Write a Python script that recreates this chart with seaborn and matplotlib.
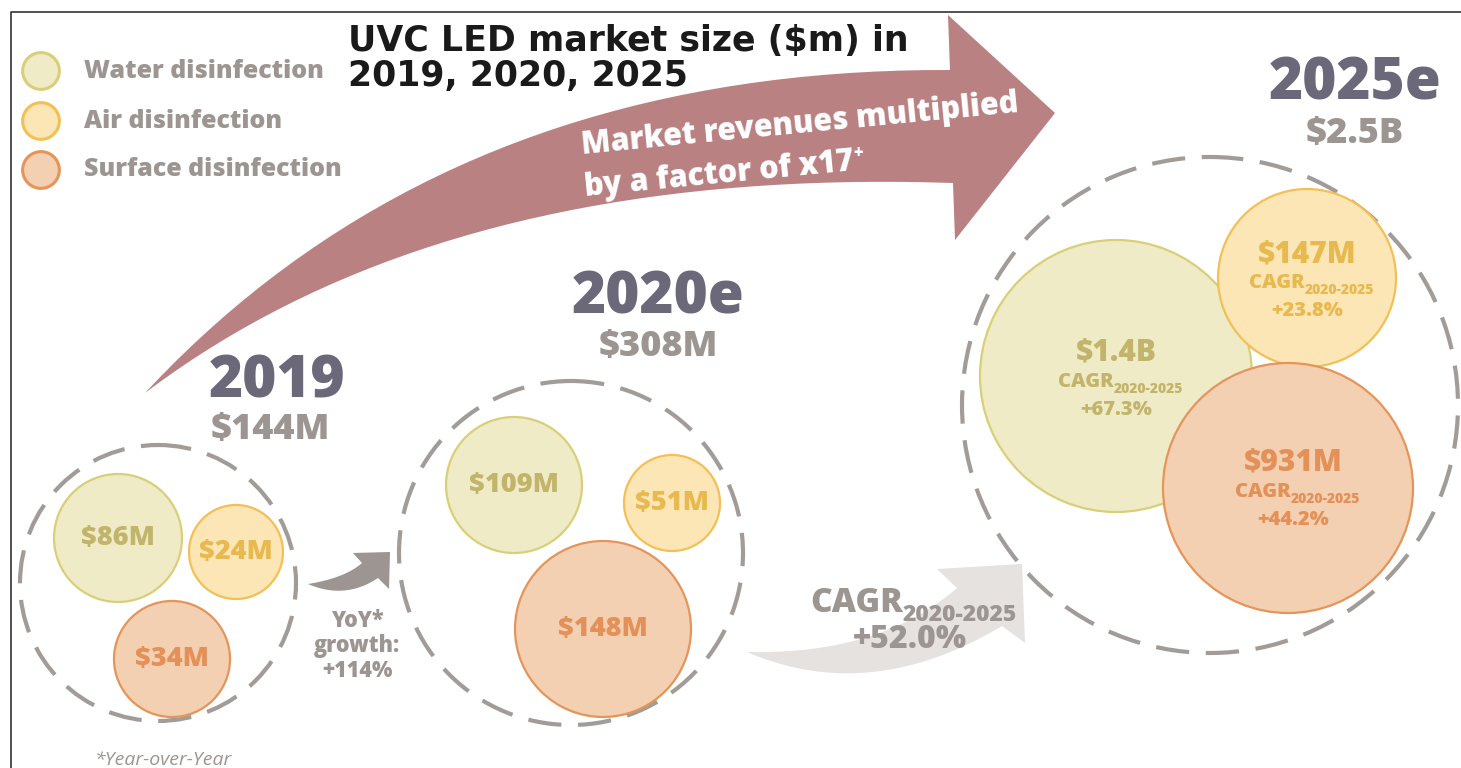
import numpy as np
import pandas as pd
import seaborn as sns
import matplotlib.pyplot as plt
from matplotlib.patches import Circle, PathPatch
from matplotlib.path import Path

# market data
segments = ["Water disinfection", "Air disinfection", "Surface disinfection"]
years = ["2019", "2020e", "2025e"]
totals_m = [144, 308, 2500]
values_2019 = [86, 24, 34]
values_2020 = [109, 51, 148]
values_2025 = [1400, 147, 931]
cagr_2025 = [67.3, 23.8, 44.2]
yoy_growth = 114
cagr_total = 52.0
growth_factor = 17

# layout (pixel space, y down)
W, H = 1461, 768
group_centers = [(158, 583), (571, 553), (1210, 405)]
group_radii = [138, 172, 248]
bubble_centers = [
    [(118, 538), (236, 552), (172, 659)],
    [(514, 485), (672, 503), (603, 629)],
    [(1116, 376), (1307, 278), (1288, 488)],
]
bubble_radii = [[64, 47, 58], [68, 48, 88], [136, 89, 125]]
year_pos = [(277, 382), (658, 298), (1355, 84)]
total_pos = [(270, 430), (658, 347), (1355, 134)]

fills = ["#efebc7", "#fce6b6", "#f3d0b1"]
edges = ["#d8cf78", "#f2c055", "#e5945a"]
txt_cols = ["#c2b56b", "#e8b94e", "#e39158"]
gray = "#9c9591"
year_col = "#6b687a"
arrow_col = "#b98182"
light_arrow = "#e5e2e0"
HEAVY = 800

sns.set_theme(style="white")
plt.rcParams['font.family'] = ['Open Sans', 'DejaVu Sans']

fig = plt.figure(figsize=(W / 100, H / 100), dpi=100)
ax = fig.add_axes([0, 0, 1, 1])
ax.set_xlim(0, W)
ax.set_ylim(H, 0)
ax.axis("off")


def money(v):
    if v >= 1000:
        return f"${v / 1000:.1f}B"
    return f"${v}M"


def bez(p0, c, p1, n=40):
    t = np.linspace(0, 1, n)[:, None]
    p0, c, p1 = np.array(p0), np.array(c), np.array(p1)
    return (1 - t) ** 2 * p0 + 2 * (1 - t) * t * c + t ** 2 * p1


def curved_arrow(tail, up_end, up_c, lo_end, lo_c, head, color, z=1):
    upper = bez(tail, up_c, up_end)
    lower = bez(tail, lo_c, lo_end)[::-1]
    pts = np.vstack([upper, np.array(head), lower])
    ax.add_patch(PathPatch(Path(np.vstack([pts, pts[:1]]), closed=True),
                           fc=color, ec="none", zorder=z))


# frame
ax.plot([11, 11, W], [H, 12, 12], color="#333333", lw=1.2, zorder=0)

# big arrow
curved_arrow((145, 393), (950, 70), (447, 68), (953, 183), (445, 166),
             [(948, 15), (1055, 113), (955, 240)], arrow_col)
ax.text(582, 154, "Market revenues multiplied", rotation=5.5, rotation_mode="anchor",
        ha="left", va="baseline", color="white", fontsize=22, fontweight=HEAVY, zorder=3)
t = ax.text(585, 196, f"by a factor of x{growth_factor}", rotation=5.5, rotation_mode="anchor",
            ha="left", va="baseline", color="white", fontsize=22, fontweight=HEAVY, zorder=3)
ax.annotate("+", xy=(1, 1), xycoords=t, xytext=(-1, -5), textcoords="offset points",
            ha="left", va="center", color="white", fontsize=12, fontweight=HEAVY, zorder=3)

# small arrows between years
curved_arrow((308, 584), (362, 563), (345, 578), (378, 578), (345, 600),
             [(353, 553), (390, 552), (389, 589)], gray)
curved_arrow((747, 652), (957, 588), (880, 655), (1002, 626), (870, 705),
             [(937, 569), (1022, 564), (1025, 643)], light_arrow)

# title
ax.text(348, 24, "UVC LED market size ($m) in\n2019, 2020, 2025", ha="left", va="top",
        fontsize=25, fontweight="bold", color="#1a1a1a", family="DejaVu Sans",
        linespacing=1.05, zorder=4)

# legend dots
leg = pd.DataFrame({"x": [41, 41, 41], "y": [71, 121, 170], "seg": segments})
sns.scatterplot(data=leg, x="x", y="y", hue="seg", palette=fills, s=700,
                edgecolor=edges, linewidth=2.2, legend=False, ax=ax, zorder=3)
for (_, r), seg in zip(leg.iterrows(), segments):
    ax.text(84, r["y"], seg, ha="left", va="center", color=gray,
            fontsize=18, fontweight=HEAVY)

# year groups
all_values = [values_2019, values_2020, values_2025]
for g in range(3):
    cx, cy = group_centers[g]
    ax.add_patch(Circle((cx, cy), group_radii[g], fill=False, ec="#a29c99", lw=3,
                        ls=(0, (8, 4)), zorder=1))
    ax.text(*year_pos[g], years[g], ha="center", va="center", color=year_col,
            fontsize=42, fontweight=HEAVY)
    ax.text(*total_pos[g], money(totals_m[g]), ha="center", va="center", color=gray,
            fontsize=26, fontweight=HEAVY)
    for k in range(3):
        bx, by = bubble_centers[g][k]
        ax.add_patch(Circle((bx, by), bubble_radii[g][k], fc=fills[k], ec=edges[k],
                            lw=1.6, zorder=2))
        val = all_values[g][k]
        if g < 2:
            ax.text(bx, by, money(val), ha="center", va="center", color=txt_cols[k],
                    fontsize=19.5, fontweight=HEAVY, zorder=3)

# 2025 bubble labels with CAGR
lab_off = [(0, -23), (0, -24), (5, -25)]
for k in range(3):
    bx, by = bubble_centers[2][k]
    ox, oy = lab_off[k]
    x0, y0 = bx + ox, by + oy
    ax.text(x0, y0, money(values_2025[k]), ha="center", va="center",
            color=txt_cols[k], fontsize=21.5, fontweight=HEAVY, zorder=3)
    t = ax.text(x0 - 2, y0 + 34, "CAGR", ha="right", va="baseline",
                color=txt_cols[k], fontsize=14.5, fontweight=HEAVY, zorder=3)
    ax.annotate("2020-2025", xy=(1, 0), xycoords=t, xytext=(0, -3), textcoords="offset points",
                ha="left", va="bottom", color=txt_cols[k], fontsize=10, fontweight=HEAVY, zorder=3)
    ax.text(x0, y0 + 57, f"+{cagr_2025[k]:.1f}%", ha="center", va="center",
            color=txt_cols[k], fontsize=14.5, fontweight=HEAVY, zorder=3)

# growth notes
ax.text(357, 646, f"YoY*\ngrowth:\n+{yoy_growth}%", ha="center", va="center", color=gray,
        fontsize=15.5, fontweight=HEAVY, linespacing=1.05)
t = ax.text(903, 612, "CAGR", ha="right", va="baseline", color=gray, fontsize=24,
            fontweight=HEAVY, zorder=3)
ax.annotate("2020-2025", xy=(1, 0), xycoords=t, xytext=(0, -5), textcoords="offset points",
            ha="left", va="bottom", color=gray, fontsize=16.5, fontweight=HEAVY, zorder=3)
ax.text(910, 640, f"+{cagr_total:.1f}%", ha="center", va="center", color=gray,
        fontsize=23, fontweight=HEAVY, zorder=3)

ax.text(95, 765, "*Year-over-Year", ha="left", va="baseline", color=gray,
        fontsize=14, style="italic")

fig.savefig("out.png", dpi=100)
